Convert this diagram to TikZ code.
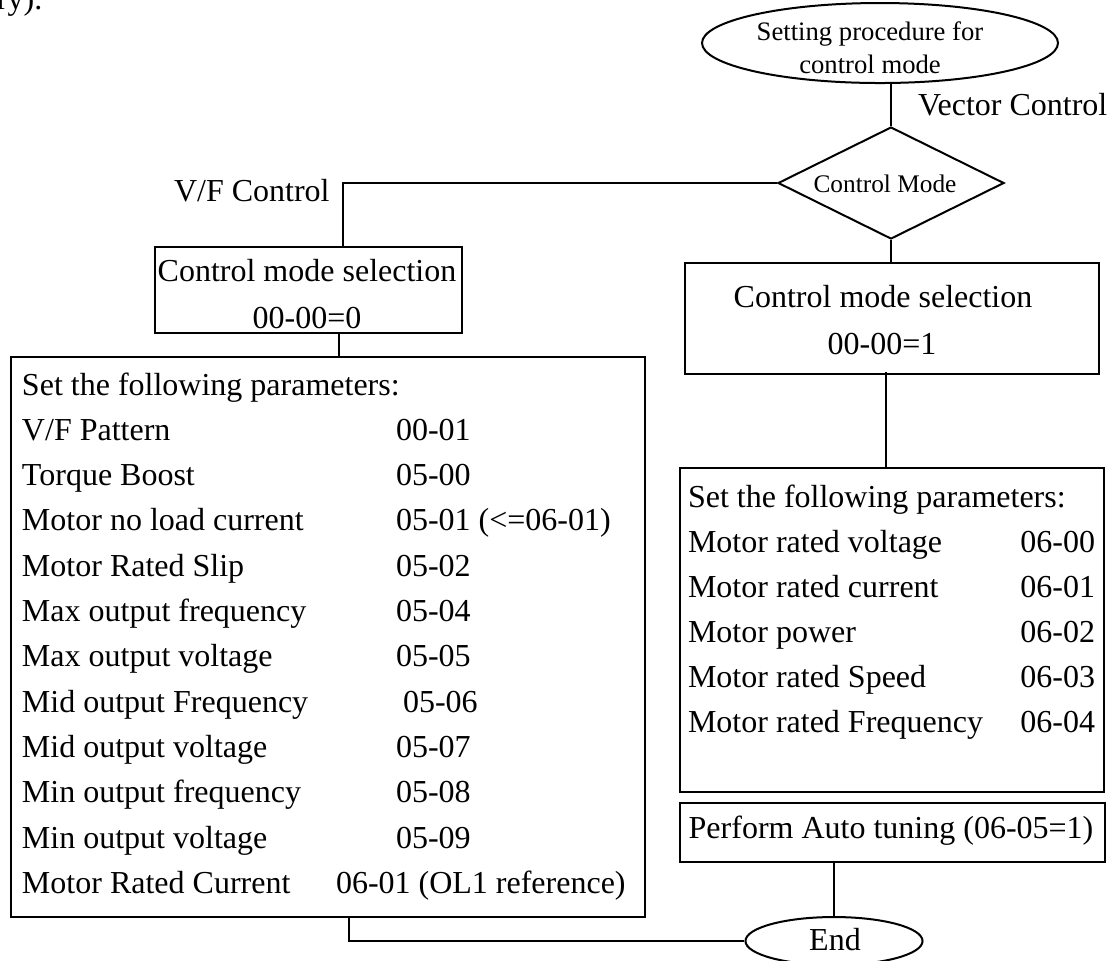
\documentclass[tikz,border=0pt]{standalone}
\usepackage{fontspec}
\setmainfont{Liberation Serif}
\usetikzlibrary{shapes.geometric, calc, fit, positioning}

\begin{document}
\begin{tikzpicture}[x=0.375pt, y=-0.375pt, line width=0.75pt, font=\fontsize{12}{14}\selectfont]
        \tikzstyle{box}=[draw, rectangle, inner sep=0pt]
        \tikzstyle{terminal}=[draw, ellipse, inner sep=0pt]
        \tikzstyle{decision}=[draw, diamond, inner sep=0pt]
        \tikzstyle{txt}=[inner sep=0pt, anchor=base west]
        \tikzstyle{ctxt}=[inner sep=0pt, anchor=base]
        \tikzstyle{num}=[inner sep=0pt, anchor=base east]
        \useasboundingbox (0,0) rectangle (1110,960);
        % scrap of text from the page above
        \node[txt] (prev) at (-4,9) {ry).};
        % start and decision
        \node[terminal, minimum width=133.5pt, minimum height=30pt] (start) at (880,43) {};
        \node[ctxt, font=\fontsize{10}{12}\selectfont] (starta) at (870,40) {Setting procedure for};
        \node[ctxt, font=\fontsize{10}{12}\selectfont] (startb) at (870,73) {control mode};
        \node[decision, minimum width=84.75pt, minimum height=42pt] (dia) at (891,183) {};
        \node[ctxt, font=\fontsize{9.5}{11}\selectfont] (diatxt) at (885,192) {Control Mode};
        \node[txt] (vec) at (917,115) {Vector Control};
        \node[txt] (vf) at (173,201) {V/F Control};
        % V/F branch
        \node[box, fit={(155,247) (462,333)}] (cmsL) {};
        \node[ctxt] (cmsLa) at (307,281) {Control mode selection};
        \node[ctxt] (cmsLb) at (307,328) {00-00=0};
        \node[box, fit={(11,357) (645,917)}] (parL) {};
        \node[txt] (parLhead) at (21,395) {Set the following parameters:};
        \foreach \name/\code/\cx [count=\i] in {%
            {V/F Pattern}/00-01/395,
            Torque Boost/05-00/395,
            Motor no load current/{05-01 (<=06-01)}/395,
            Motor Rated Slip/05-02/395,
            Max output frequency/05-04/395,
            Max output voltage/05-05/395,
            Mid output Frequency/05-06/402,
            Mid output voltage/05-07/395,
            Min output frequency/05-08/395,
            Min output voltage/05-09/395,
            Motor Rated Current/{06-01 (OL1 reference)}/335}{
            \node[txt] (vfname\i) at (21,395+45.3*\i) {\name};
            \node[txt] (vfcode\i) at (\cx,395+45.3*\i) {\code};
        }
        % vector branch
        \node[box, fit={(685,263) (1099,374)}] (cmsR) {};
        \node[ctxt] (cmsRa) at (883,307) {Control mode selection};
        \node[ctxt] (cmsRb) at (882,354) {00-00=1};
        \node[box, fit={(680,468) (1104,792)}] (parR) {};
        \node[txt] (parRhead) at (687,507) {Set the following parameters:};
        \foreach \name/\code [count=\i] in {%
            Motor rated voltage/06-00,
            Motor rated current/06-01,
            Motor power/06-02,
            Motor rated Speed/06-03,
            Motor rated Frequency/06-04}{
            \node[txt] (vcname\i) at (687,507+45*\i) {\name};
            \node[num] (vccode\i) at (1096,507+45*\i) {\code};
        }
        \node[box, fit={(680,803) (1105,862)}] (auto) {};
        \node[ctxt] (autotxt) at (891,838) {Perform Auto tuning (06-05=1)};
        % end
        \node[terminal, minimum width=66.4pt, minimum height=18pt] (endn) at (834,941) {};
        \node[ctxt] (endtxt) at (835,950) {End};
        % connectors
        \coordinate (vfturn) at (343,183);
        \draw (start.south -| dia.north) -- (dia.north);
        \draw (dia.south) -- (dia.south |- cmsR.north);
        \draw (dia.west) -- (vfturn) -- (vfturn |- cmsL.north);
        \draw (339,0 |- cmsL.south) -- (339,0 |- parL.north);
        \draw ($(cmsR.south)+(-6,-3)$) -- ($(parR.north)+(-6,0)$);
        \draw (endn.north) -- (endn.north |- auto.south);
        \draw (endn.west) -| (349,0 |- parL.south);
\end{tikzpicture}
\end{document}
